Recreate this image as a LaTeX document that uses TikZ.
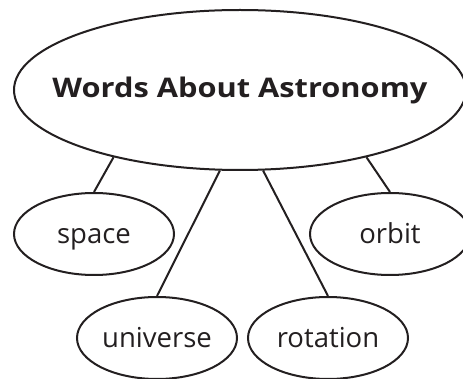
\documentclass[tikz,border=0pt]{standalone}
\usepackage{fontspec}
\setmainfont{Open Sans}
\usepackage{graphicx}
\usetikzlibrary{shapes.geometric}
\definecolor{ink}{HTML}{231F20}
\begin{document}
\begin{tikzpicture}[
   x=1pt,y=-1pt,
   wordbox/.style={draw=ink,ellipse,line width=2pt,inner sep=0pt,
     minimum width=160pt,minimum height=82pt,text=ink,
     font=\fontsize{27.5}{30}\selectfont,text height=20pt,text depth=1pt},
   topicbox/.style={wordbox,minimum width=452pt,minimum height=160pt},
   topictext/.style={text=ink,font=\fontsize{27}{30}\selectfont\bfseries},
   wordlink/.style={draw=ink,line width=2pt}
 ]
 \useasboundingbox (0,0) rectangle (463,379);
 % the topic, with the four words hanging from it
 \node[topicbox,label={[topictext]center:\scalebox{1.14}[1]{Words About Astronomy}}]
   (topic) at (240,90) {};
 \node[wordbox] (space) at (94,234) {space};
 \node[wordbox] (orbit) at (390,234) {orbit};
 \node[wordbox] (universe) at (157,338) {universe};
 \node[wordbox] (rotation) at (328,338) {rotation};
 \foreach \ang/\word in {208/space,256/universe,286/rotation,332/orbit} {
   \draw[wordlink] (topic.\ang) -- (\word.north);
 }
\end{tikzpicture}
\end{document}
